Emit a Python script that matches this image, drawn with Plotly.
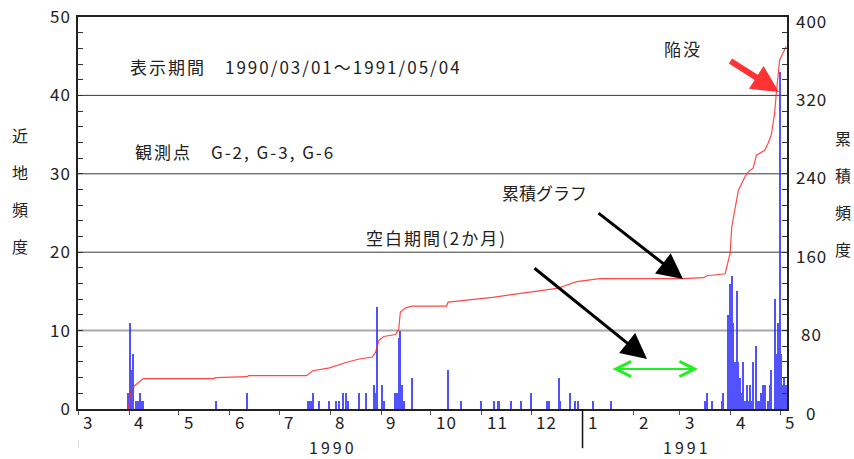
import plotly.graph_objects as go

# ---------------- data ----------------
bar_dates = [
    "1990-03-31", "1990-04-01", "1990-04-02", "1990-04-03", "1990-04-05", "1990-04-06",
    "1990-04-07", "1990-04-08", "1990-04-09", "1990-05-23", "1990-06-11",
    "1990-07-18", "1990-07-19", "1990-07-20", "1990-07-21", "1990-07-25", "1990-07-31",
    "1990-08-04", "1990-08-06", "1990-08-08", "1990-08-10", "1990-08-11", "1990-08-18",
    "1990-08-22", "1990-08-27", "1990-08-28", "1990-08-29", "1990-09-01", "1990-09-02",
    "1990-09-09", "1990-09-10", "1990-09-11", "1990-09-12", "1990-09-13", "1990-09-14",
    "1990-09-19", "1990-10-11", "1990-10-19", "1990-10-31", "1990-11-08", "1990-11-10",
    "1990-11-11", "1990-11-18", "1990-11-24", "1990-11-30", "1990-12-10", "1990-12-11",
    "1990-12-17", "1990-12-18", "1990-12-24", "1990-12-27", "1990-12-29",
    "1991-01-07", "1991-01-18",
    "1991-03-16", "1991-03-17", "1991-03-20", "1991-03-26", "1991-03-27", "1991-03-30",
    "1991-03-31", "1991-04-01", "1991-04-02", "1991-04-03", "1991-04-04", "1991-04-05",
    "1991-04-06", "1991-04-07", "1991-04-08", "1991-04-09", "1991-04-10", "1991-04-11",
    "1991-04-12", "1991-04-13", "1991-04-14", "1991-04-16", "1991-04-17", "1991-04-18",
    "1991-04-19", "1991-04-20", "1991-04-21", "1991-04-23", "1991-04-24", "1991-04-25",
    "1991-04-27", "1991-04-28", "1991-04-29", "1991-04-30", "1991-05-01", "1991-05-02",
    "1991-05-03", "1991-05-04",
]
bar_counts = [
    2, 11, 5, 7, 1, 1,
    2, 1, 1, 1, 2,
    1, 1, 1, 2, 1, 1,
    1, 1, 2, 2, 1, 2,
    2, 3, 2, 13, 3, 1,
    2, 2, 9, 10, 3, 1,
    4, 5, 1, 1, 1, 1,
    1, 1, 1, 2, 1, 1,
    4, 1, 2, 1, 1,
    1, 1,
    1, 2, 1, 1, 2, 12,
    16, 17, 11, 6, 15, 6,
    4, 2, 6, 1, 3, 1,
    3, 1, 6, 8, 1, 1,
    2, 3, 3, 1, 3, 5,
    14, 7, 11, 43, 7, 3,
    4, 3,
]

cum_dates = [
    "1990-03-31", "1990-04-01", "1990-04-02", "1990-04-04", "1990-04-07", "1990-04-09",
    "1990-05-22", "1990-05-23", "1990-06-11", "1990-06-12", "1990-07-17", "1990-07-21",
    "1990-07-31", "1990-08-11", "1990-08-18", "1990-08-26", "1990-08-28", "1990-08-29",
    "1990-08-30", "1990-09-02", "1990-09-09", "1990-09-11", "1990-09-12", "1990-09-15",
    "1990-09-19", "1990-10-10", "1990-10-11", "1990-11-07", "1990-11-29", "1990-12-16",
    "1990-12-28", "1991-01-11", "1991-03-02", "1991-03-15", "1991-03-17", "1991-03-28",
    "1991-03-29", "1991-03-31", "1991-04-01", "1991-04-03", "1991-04-05", "1991-04-09",
    "1991-04-11", "1991-04-14", "1991-04-16", "1991-04-21", "1991-04-23", "1991-04-25",
    "1991-04-27", "1991-04-28", "1991-04-29", "1991-04-30", "1991-05-02", "1991-05-04",
]
cum_values = [
    0, 9, 21, 24, 28, 31,
    31, 32, 33, 34, 34, 39,
    42, 48, 51, 53, 58, 63,
    70, 74, 76, 81, 99, 103,
    105, 105, 109, 114, 119, 123,
    130, 133, 133, 134, 136, 138,
    145, 159, 186, 206, 223, 237,
    242, 246, 259, 264, 271, 280,
    302, 322, 339, 356, 363, 370,
]

month_ticks = [
    "1990-03-01", "1990-04-01", "1990-05-01", "1990-06-01", "1990-07-01",
    "1990-08-01", "1990-09-01", "1990-10-01", "1990-11-01", "1990-12-01",
    "1991-01-01", "1991-02-01", "1991-03-01", "1991-04-01", "1991-05-01",
]
month_labels = ["3", "4", "5", "6", "7", "8", "9", "10", "11", "12", "1", "2", "3", "4", "5"]
year_labels = ["1990", "1991"]
left_ticks = [0, 10, 20, 30, 40, 50]
right_ticks = [0, 80, 160, 240, 320, 400]
grid_values = [10, 20, 30, 40]

FONT = "Noto Sans CJK JP"
TXT = "#222222"

# plot area in pixels (for placing free texts / arrows)
L, R, T, B = 78, 787, 17, 409


def px(xp):
    return (xp - L) / (R - L)


def py(yp):
    return (B - yp) / (B - T)


def sp(t, ls=2):
    return f'<span style="letter-spacing:{ls}px">{t}</span>'


fig = go.Figure()

fig.add_trace(go.Bar(
    x=bar_dates, y=bar_counts, xperiod=86400000, xperiodalignment="middle",
    width=86400000 * 0.7,
    marker=dict(color="#3535ff", line=dict(width=0)),
    opacity=0.85, yaxis="y", showlegend=False,
))

fig.add_trace(go.Scatter(
    x=cum_dates, y=cum_values, xperiod=86400000, xperiodalignment="middle",
    mode="lines", line=dict(color="rgba(255,40,40,0.85)", width=1.2),
    yaxis="y2", showlegend=False,
))

shapes = []
for g in grid_values:
    shapes.append(dict(
        type="line", xref="paper", x0=0, x1=1, yref="y", y0=g, y1=g,
        line=dict(color="#a8a8a8" if g == 10 else "#3a3a3a", width=2 if g == 10 else 1),
        layer="below",
    ))
# year separator
shapes.append(dict(type="line", xref="x", x0="1991-01-01", x1="1991-01-01",
                   yref="paper", y0=0, y1=-0.1, line=dict(color="#111", width=1.5)))
shapes.append(dict(type="line", xref="x", x0="1990-03-01", x1="1990-03-01",
                   yref="paper", y0=-0.08, y1=-0.1, line=dict(color="#bbb", width=1)))

ann = []
# month labels
for d, lab in zip(month_ticks, month_labels):
    ann.append(dict(x=d, xref="x", y=-0.031, yref="paper", text=sp(lab, 1), showarrow=False,
                    xanchor="left", yanchor="middle", xshift=3,
                    font=dict(family=FONT, size=17, color=TXT)))
# year labels
for lab, xp in zip(year_labels, [333, 687]):
    ann.append(dict(x=px(xp), xref="paper", y=py(447), yref="paper", text=sp(lab, 3),
                    showarrow=False, xanchor="center", yanchor="middle",
                    font=dict(family=FONT, size=16, color=TXT)))
# right axis labels
for v in right_ticks:
    ann.append(dict(x=1, xref="paper", y=v, yref="y2", text=sp(str(v), 1), showarrow=False,
                    xanchor="center", yanchor="middle", xshift=24, yshift=-3,
                    font=dict(family=FONT, size=17, color=TXT)))
# vertical axis titles
for i, ch in enumerate("近地頻度"):
    ann.append(dict(x=px(20), xref="paper", y=py(135 + 37 * i), yref="paper", text=ch,
                    showarrow=False, xanchor="center", yanchor="middle",
                    font=dict(family=FONT, size=16, color=TXT)))
for i, ch in enumerate("累積頻度"):
    ann.append(dict(x=px(843), xref="paper", y=py(138 + 37 * i), yref="paper", text=ch,
                    showarrow=False, xanchor="center", yanchor="middle",
                    font=dict(family=FONT, size=16, color=TXT)))

# free texts
texts = [
    ("表示期間\u30001990/03/01～1991/05/04", 130, 66, 2),
    ("観測点\u3000G-2, G-3, G-6", 135, 151, 2),
    ("累積グラフ", 502, 192, 0),
    ("空白期間(2か月)", 366, 238, 2),
    ("陥没", 664, 49, 2),
]
for t, xp, yp, ls in texts:
    ann.append(dict(x=px(xp), xref="paper", y=py(yp), yref="paper", text=sp(t, ls),
                    showarrow=False, xanchor="left", yanchor="middle", xshift=-2,
                    font=dict(family=FONT, size=17, color=TXT)))

# arrows
ann.append(dict(x=px(683), y=py(279), xref="paper", yref="paper", text="",
                showarrow=True, ax=597 - 683, ay=212 - 279, arrowhead=2,
                arrowwidth=3, arrowsize=1.7, arrowcolor="black"))
ann.append(dict(x=px(647), y=py(359), xref="paper", yref="paper", text="",
                showarrow=True, ax=533 - 647, ay=267 - 359, arrowhead=2,
                arrowwidth=3, arrowsize=1.7, arrowcolor="black"))
ann.append(dict(x=px(779), y=py(92), xref="paper", yref="paper", text="",
                showarrow=True, ax=729 - 779, ay=60 - 92, arrowhead=2,
                arrowwidth=6, arrowsize=0.9, arrowcolor="#ff3333"))
ann.append(dict(x=px(698), y=py(369), xref="paper", yref="paper", text="",
                showarrow=True, ax=611 - 698, ay=0, arrowhead=5, startarrowhead=5,
                arrowside="end+start", arrowwidth=2, arrowsize=1.5, startarrowsize=1.5,
                arrowcolor="#22ee22"))

fig.update_layout(
    width=854, height=459,
    margin=dict(l=L, r=854 - R, t=T, b=459 - B, autoexpand=False),
    paper_bgcolor="white", plot_bgcolor="white",
    bargap=0, barmode="overlay",
    shapes=shapes, annotations=ann,
    xaxis=dict(
        type="date", range=["1990-03-01", "1991-05-05"],
        tickvals=month_ticks, showticklabels=False,
        ticks="outside", ticklen=4, tickcolor="#555", tickwidth=1,
        showline=True, linecolor="#222", linewidth=1.5, mirror=True,
        showgrid=False, zeroline=False, automargin=False,
    ),
    yaxis=dict(
        range=[0, 50], tickvals=left_ticks, ticktext=[sp(str(v), 1) for v in left_ticks],
        ticks="inside", ticklen=5, tickcolor="#333",
        minor=dict(dtick=2, ticks="inside", ticklen=5, tickcolor="#333", showgrid=False),
        showline=True, linecolor="#222", linewidth=1.5,
        showgrid=False, zeroline=False, automargin=False,
        tickfont=dict(family=FONT, size=17, color=TXT), ticklabelstandoff=2,
    ),
    yaxis2=dict(
        range=[0, 400], overlaying="y", side="right",
        tickvals=right_ticks, showticklabels=False,
        ticks="inside", ticklen=5, tickcolor="#333",
        minor=dict(dtick=16, ticks="inside", ticklen=5, tickcolor="#333", showgrid=False),
        showline=True, linecolor="#222", linewidth=1.5,
        showgrid=False, zeroline=False, automargin=False,
    ),
)

fig.write_html("out.html", config={"displayModeBar": False},
               post_script="document.body.style.margin='0';")
